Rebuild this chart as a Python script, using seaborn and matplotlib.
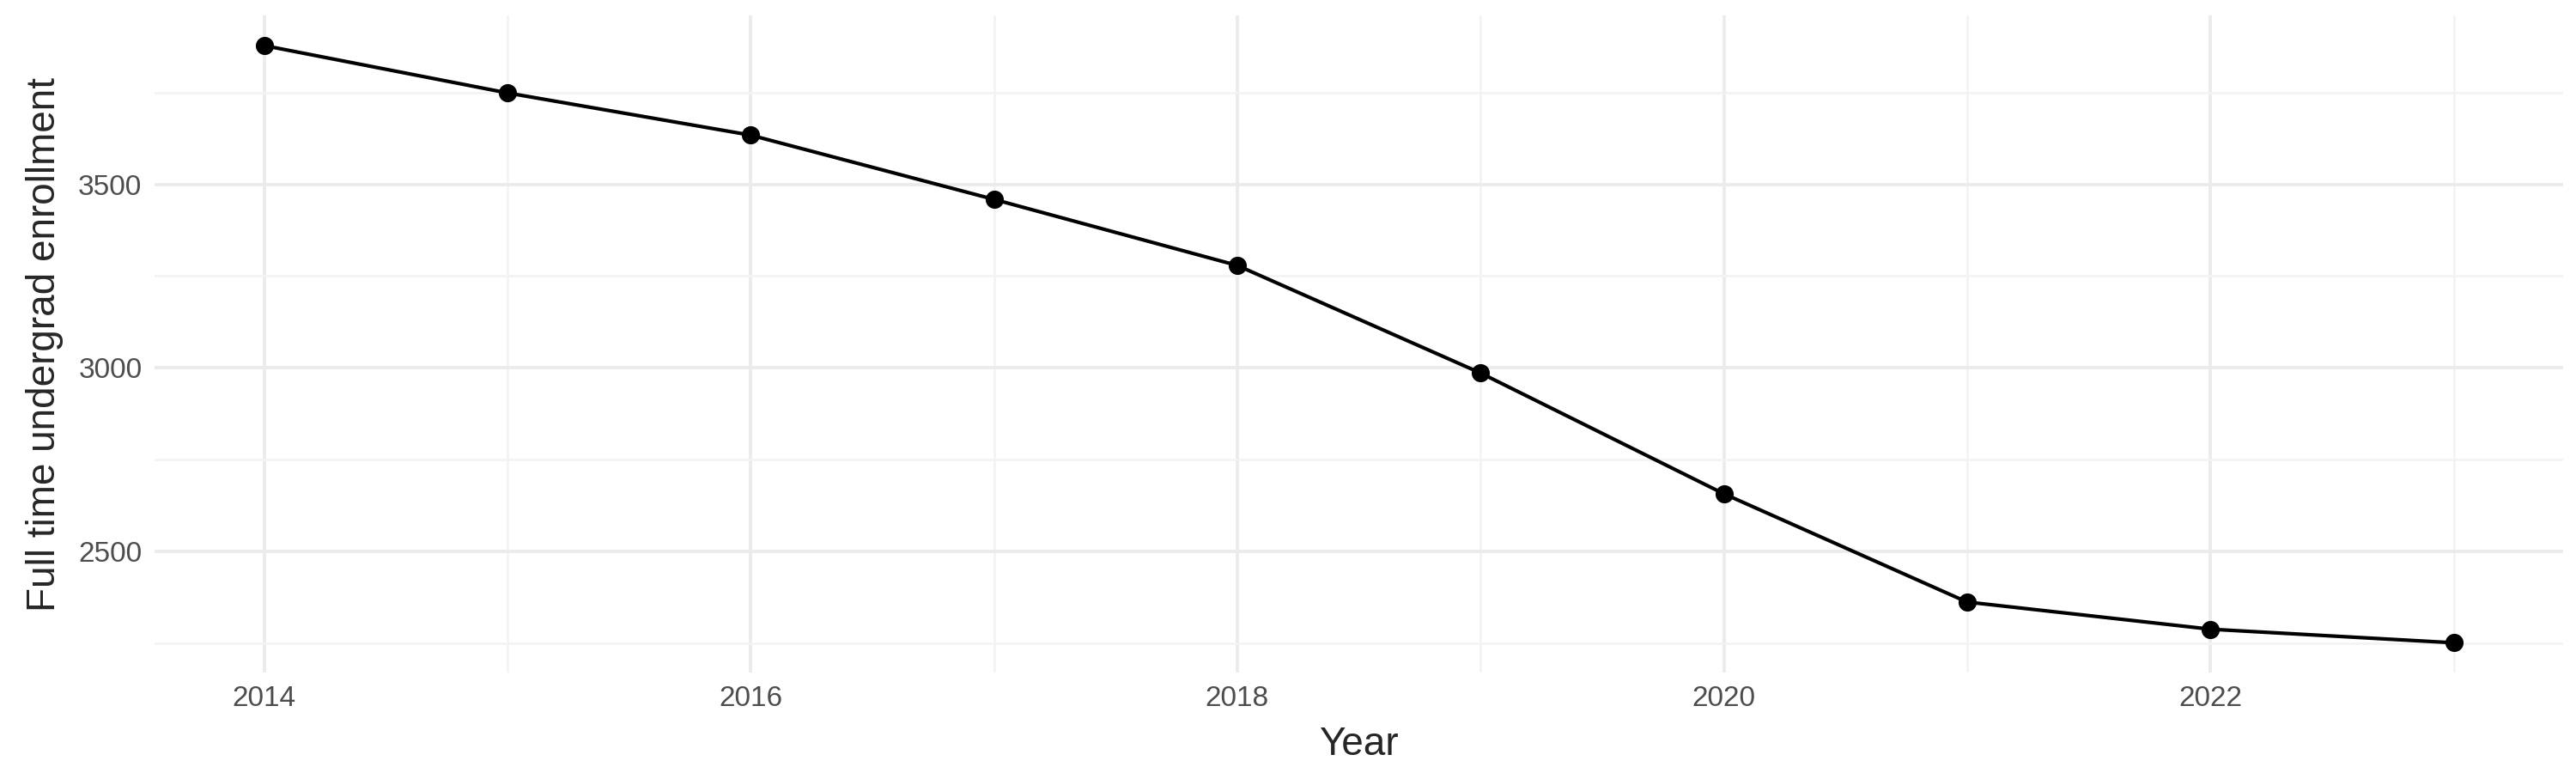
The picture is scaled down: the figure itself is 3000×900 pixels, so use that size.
import matplotlib
matplotlib.use("Agg")
import matplotlib.pyplot as plt
import seaborn as sns
import pandas as pd
from matplotlib.ticker import MultipleLocator

years = [2014, 2015, 2016, 2017, 2018, 2019, 2020, 2021, 2022, 2023]
enrollment = [3878, 3749, 3634, 3459, 3279, 2986, 2657, 2362, 2288, 2251]
df = pd.DataFrame({"Year": years, "Enrollment": enrollment})

sns.set_theme(style="white")
plt.rcParams['font.family'] = ['Liberation Sans', 'DejaVu Sans']

fig, ax = plt.subplots(figsize=(10, 3), dpi=300)
sns.lineplot(data=df, x="Year", y="Enrollment", color="black", linewidth=1, ax=ax)
sns.scatterplot(data=df, x="Year", y="Enrollment", color="black", s=22, edgecolor="black", zorder=3, ax=ax)

ax.xaxis.set_major_locator(MultipleLocator(2))
ax.xaxis.set_minor_locator(MultipleLocator(1))
ax.yaxis.set_major_locator(MultipleLocator(500))
ax.yaxis.set_minor_locator(MultipleLocator(250))
ax.set_xlim(2013.55, 2023.45)
ax.set_ylim(2170, 3960)
ax.grid(which="major", color="#ebebeb", linewidth=0.9)
ax.grid(which="minor", color="#f3f3f3", linewidth=0.6)
ax.set_axisbelow(True)
for s in ax.spines.values():
    s.set_visible(False)
ax.tick_params(which="both", length=0, labelsize=8, labelcolor="#4d4d4d")
ax.set_xlabel("Year", fontsize=11)
ax.set_ylabel("Full time undergrad enrollment", fontsize=11)

fig.subplots_adjust(left=0.06, right=0.995, top=0.98, bottom=0.13)
fig.savefig("out.png", dpi=300)
